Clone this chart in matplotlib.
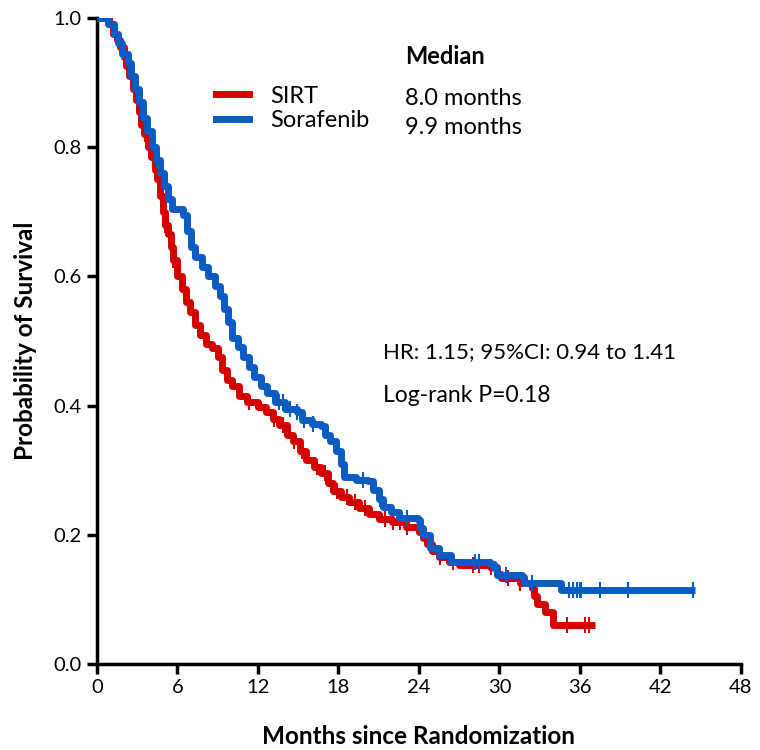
import numpy as np
import matplotlib.pyplot as plt
from matplotlib.lines import Line2D

plt.rcParams['font.family'] = ['Lato', 'DejaVu Sans']

# Kaplan-Meier step points (months, survival)
sirt_t = [0, 0.9, 1.2, 1.5, 1.7, 2.0, 2.2, 2.4, 2.7, 2.9, 3.1, 3.3, 3.5, 3.8, 4.0, 4.3,
          4.5, 4.7, 4.9, 5.1, 5.3, 5.5, 5.7, 6.0, 6.3, 6.6, 6.9, 7.3, 7.7, 8.1, 8.6, 9.0,
          9.3, 9.7, 10.1, 10.6, 11.2, 12.0, 12.6, 13.1, 13.6, 14.2, 14.6, 15.1, 15.6,
          16.2, 16.7, 17.2, 17.6, 18.2, 18.8, 19.5, 20.3, 21.0, 22.0, 23.0, 24.0, 24.3,
          24.6, 25.0, 25.5, 26.2, 27.0, 29.3, 29.8, 30.1, 31.5, 32.4, 32.6, 32.8, 33.4, 34.0]
sirt_s = [1.0, 0.99, 0.975, 0.966, 0.955, 0.94, 0.925, 0.91, 0.89, 0.873, 0.855, 0.835,
          0.82, 0.80, 0.785, 0.765, 0.75, 0.725, 0.70, 0.68, 0.665, 0.645, 0.625, 0.60,
          0.58, 0.56, 0.545, 0.525, 0.51, 0.495, 0.489, 0.475, 0.455, 0.44, 0.43, 0.415,
          0.405, 0.398, 0.39, 0.38, 0.37, 0.355, 0.345, 0.33, 0.315, 0.305, 0.295, 0.28,
          0.268, 0.258, 0.25, 0.242, 0.232, 0.225, 0.22, 0.212, 0.205, 0.195, 0.185,
          0.175, 0.165, 0.158, 0.153, 0.15, 0.14, 0.133, 0.125, 0.118, 0.105, 0.093,
          0.08, 0.06]
sirt_end = 37.1
sirt_cens = [3.6, 5.1, 5.7, 11.3, 13.2, 13.9, 14.7, 15.3, 16.4, 17.0, 17.9, 18.6,
             19.2, 20.0, 21.5, 22.1, 22.6, 23.1, 25.6, 26.5, 28.0, 28.5, 29.4, 30.6,
             31.5, 35.0, 36.4, 36.7]

sor_t = [0, 0.8, 1.3, 1.6, 1.9, 2.3, 2.5, 2.8, 3.1, 3.4, 3.7, 4.1, 4.4, 4.7, 5.0, 5.3,
         5.6, 6.4, 6.7, 7.0, 7.3, 7.8, 8.3, 8.8, 9.2, 9.5, 9.8, 10.1, 10.5, 10.9, 11.3,
         11.7, 12.2, 12.7, 13.3, 14.0, 14.9, 15.3, 16.0, 16.7, 17.0, 17.4, 17.8, 18.2,
         18.4, 19.3, 20.2, 20.6, 21.0, 21.3, 21.9, 22.5, 23.9, 24.1, 24.3, 24.8, 25.5,
         26.4, 29.3, 29.6, 29.8, 31.7, 31.8, 34.6]
sor_s = [1.0, 0.99, 0.975, 0.962, 0.945, 0.93, 0.91, 0.89, 0.87, 0.845, 0.825, 0.80,
         0.78, 0.76, 0.74, 0.72, 0.705, 0.695, 0.67, 0.645, 0.63, 0.615, 0.60, 0.585,
         0.57, 0.55, 0.53, 0.505, 0.49, 0.475, 0.46, 0.445, 0.43, 0.42, 0.405, 0.395,
         0.39, 0.378, 0.372, 0.368, 0.355, 0.345, 0.33, 0.31, 0.29, 0.285, 0.283, 0.27,
         0.255, 0.243, 0.235, 0.226, 0.223, 0.21, 0.20, 0.18, 0.168, 0.158, 0.155,
         0.148, 0.138, 0.135, 0.125, 0.115]
sor_end = 44.6
sor_cens = [4.5, 13.6, 13.9, 14.4, 14.9, 15.4, 16.1, 18.3, 19.8, 21.1, 23.1, 28.2,
            28.5, 30.5, 32.4, 35.2, 35.5, 35.8, 36.0, 36.1, 37.5, 39.6, 44.4]

groups = ['SIRT', 'Sorafenib']
medians = ['8.0 months', '9.9 months']
colors = ['#d40000', '#0a5cc2']
x_ticks = [0, 6, 12, 18, 24, 30, 36, 42, 48]
y_ticks = [0.0, 0.2, 0.4, 0.6, 0.8, 1.0]


def surv_at(t, s, x):
    # value of the step function at time x
    i = np.searchsorted(t, x, side='right') - 1
    return np.asarray(s)[i]


fig = plt.figure(figsize=(7.6, 7.5), dpi=100)
ax = fig.add_axes([0.1276, 0.1147, 0.8474, 0.8613])

curves = [(sirt_t, sirt_s, sirt_end, sirt_cens), (sor_t, sor_s, sor_end, sor_cens)]
for (t, s, end, cens), c in zip(curves, colors):
    tt = list(t) + [end]
    ss = list(s) + [s[-1]]
    ax.step(tt, ss, where='post', color=c, lw=5, solid_capstyle='butt', zorder=3)
    ax.plot(cens, surv_at(t, s, cens), ls='none', marker='|', ms=12, mew=1.5,
            color=c, zorder=3)

ax.set_xlim(0, 48)
ax.set_ylim(0, 1.0)
ax.set_xticks(x_ticks)
ax.set_yticks(y_ticks)
ax.set_yticklabels([f'{v:.1f}' for v in y_ticks])
for sp in ['top', 'right']:
    ax.spines[sp].set_visible(False)
for sp in ['left', 'bottom']:
    ax.spines[sp].set_linewidth(2.5)
ax.tick_params(width=2.5, length=7, labelsize=14.5, direction='out', pad=4)

ax.set_xlabel('Months since Randomization', fontsize=17.5, fontweight='bold', labelpad=21)
ax.set_ylabel('Probability of Survival', fontsize=17.5, fontweight='bold', labelpad=12)

handles = [Line2D([], [], color=c, lw=5) for c in colors]
ax.legend(handles, groups, loc='upper left', bbox_to_anchor=(0.17, 0.91),
          frameon=False, fontsize=17, handlelength=1.4, handletextpad=0.9,
          labelspacing=0.15, borderaxespad=0)

ax.text(0.478, 0.94, 'Median', transform=ax.transAxes, fontsize=17,
        fontweight='bold', va='center')
for i, m in enumerate(medians):
    ax.text(0.478, 0.876 - i * 0.046, m, transform=ax.transAxes, fontsize=17,
            va='center')

ax.text(0.444, 0.483, 'HR: 1.15; 95%CI: 0.94 to 1.41', transform=ax.transAxes,
        fontsize=16, va='center')
ax.text(0.444, 0.416, 'Log-rank P=0.18', transform=ax.transAxes, fontsize=16.5,
        va='center')

fig.savefig('out.png', dpi=100)
